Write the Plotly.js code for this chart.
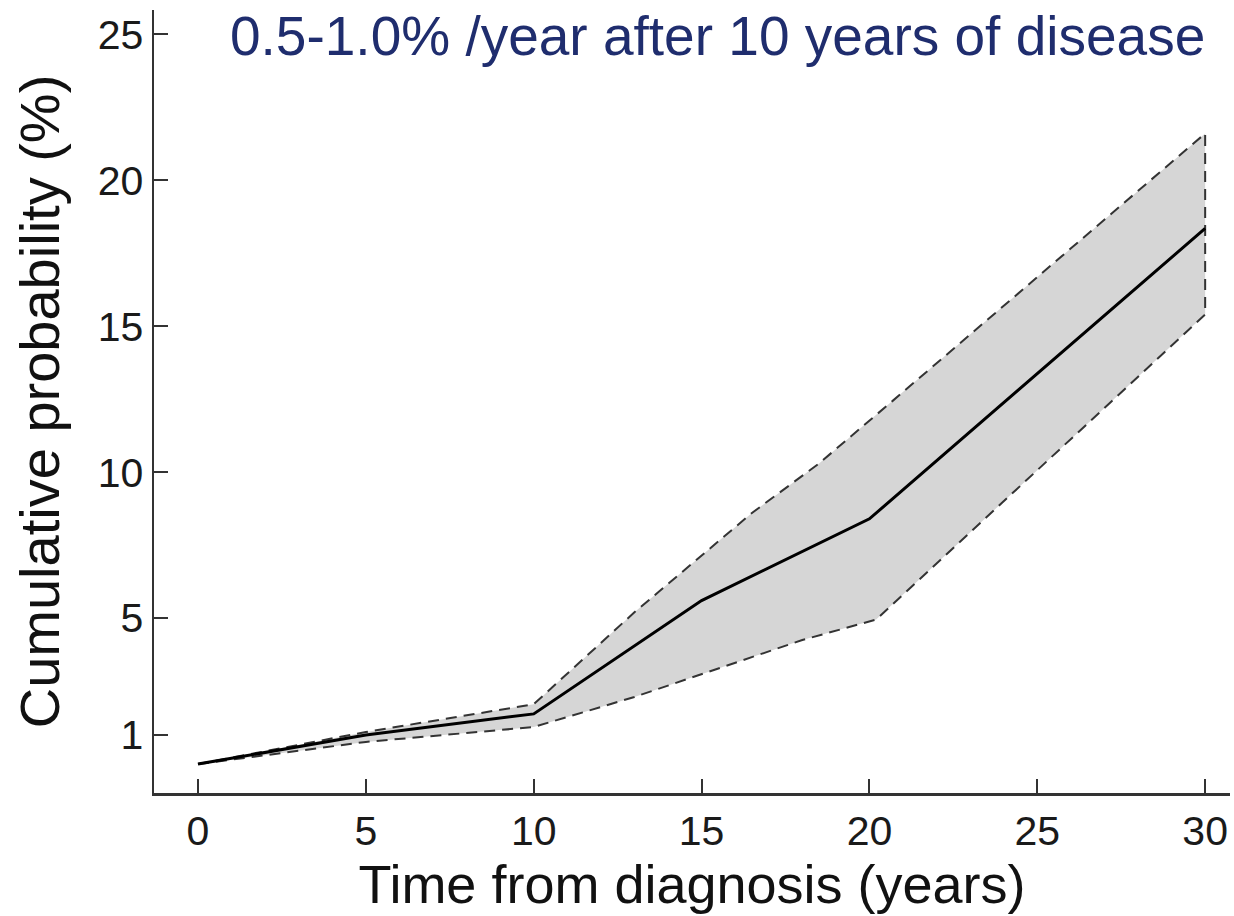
<!DOCTYPE html>
<html>
<head>
<meta charset="utf-8">
<script src="https://cdn.plot.ly/plotly-3.0.1.min.js"></script>
<style>
  html, body { margin: 0; padding: 0; background: #ffffff; }
  #chart { width: 1234px; height: 916px; }
</style>
</head>
<body>
<div id="chart"></div>
<script>
// Estimate (solid line)
const centerYears = [0, 5, 10, 15, 20, 30];
const centerProb  = [0, 1.0, 1.72, 5.6, 8.4, 18.35];

// Upper confidence bound (dashed)
const upperYears = [0, 5, 10, 13, 16.5, 18.5, 20.7, 30];
const upperProb  = [0, 1.1, 2.05, 5.2, 8.6, 10.3, 12.45, 21.6];

// Lower confidence bound (dashed)
const lowerYears = [0, 5, 10, 13, 18, 20.2, 30];
const lowerProb  = [0, 0.76, 1.27, 2.3, 4.25, 4.95, 15.4];

const xTickVals = [0, 5, 10, 15, 20, 25, 30];
const yTickVals = [1, 5, 10, 15, 20, 25];

const titleText = "0.5-1.0% /year after 10 years of disease";
const xTitle = "Time from diagnosis (years)";
const yTitle = "Cumulative probability (%)";

// closed band polygon built from the two bounds
const bandX = upperYears.concat(lowerYears.slice().reverse());
const bandY = upperProb.concat(lowerProb.slice().reverse());

const traces = [
  {
    x: bandX, y: bandY,
    type: "scatter", mode: "lines",
    fill: "toself", fillcolor: "#d6d6d6",
    line: { color: "#333333", width: 2, dash: "11px,7px" },
    hoverinfo: "skip", showlegend: false
  },
  {
    x: centerYears, y: centerProb,
    type: "scatter", mode: "lines",
    line: { color: "#000000", width: 3 },
    showlegend: false
  }
];

const axisFont = { family: "Liberation Sans, Arial, sans-serif", size: 41, color: "#1a1a1a" };

const layout = {
  width: 1234, height: 916,
  paper_bgcolor: "#ffffff", plot_bgcolor: "#ffffff",
  margin: { l: 154, r: 4, t: 10, b: 123 },
  showlegend: false,
  title: {
    text: titleText,
    font: { family: "Liberation Sans, Arial, sans-serif", size: 55, color: "#1f2d6e" },
    x: 230 / 1234, xref: "container", xanchor: "left",
    y: 1 - 16 / 916, yref: "container", yanchor: "top"
  },
  xaxis: {
    range: [-1.31, 30.74],
    tickvals: xTickVals,
    ticktext: xTickVals.map(String),
    ticks: "inside", ticklen: 14, tickwidth: 2, tickcolor: "#333333",
    showline: true, linecolor: "#333333", linewidth: 2.5,
    showgrid: false, zeroline: false,
    tickfont: axisFont,
    title: { text: xTitle, font: { family: "Liberation Sans, Arial, sans-serif", size: 54, color: "#111111" }, standoff: 12 },
    automargin: false
  },
  yaxis: {
    range: [-0.99, 25.83],
    tickvals: yTickVals,
    ticktext: yTickVals.map(String),
    ticks: "inside", ticklen: 14, tickwidth: 2, tickcolor: "#333333",
    showline: true, linecolor: "#333333", linewidth: 2.5,
    showgrid: false, zeroline: false,
    tickfont: axisFont,
    title: { text: yTitle, font: { family: "Liberation Sans, Arial, sans-serif", size: 56, color: "#111111" }, standoff: 20 },
    automargin: false
  }
};

Plotly.newPlot("chart", traces, layout, { displayModeBar: false, staticPlot: true });
</script>
</body>
</html>
